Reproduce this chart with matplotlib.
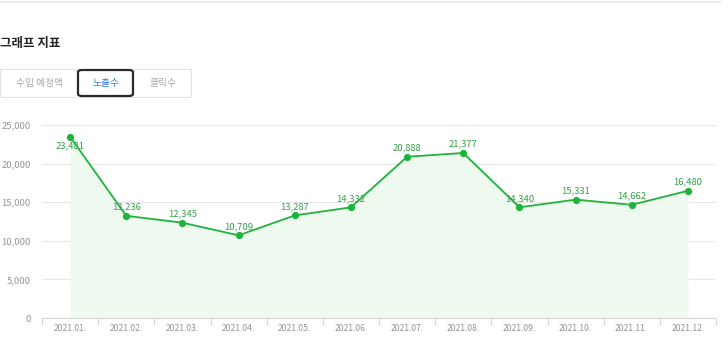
import numpy as np
import matplotlib
matplotlib.use('Agg')
from matplotlib import pyplot as plt
from matplotlib.patches import Rectangle, FancyBboxPatch
from matplotlib.lines import Line2D

plt.rcParams['font.family'] = ['Noto Sans CJK KR', 'DejaVu Sans']

# 데이터
months = ['2021.01.', '2021.02.', '2021.03.', '2021.04.', '2021.05.', '2021.06.',
          '2021.07.', '2021.08.', '2021.09.', '2021.10.', '2021.11.', '2021.12.']
views = [23481, 13236, 12345, 10709, 13287, 14332, 20888, 21377, 14340, 15331, 14662, 16480]
yticks = [0, 5000, 10000, 15000, 20000, 25000]
tabs = ['수입 예정액', '노출수', '클릭수']
title = '그래프 지표'

W, H = 728, 356
fig = plt.figure(figsize=(W / 100, H / 100), dpi=100)

def px(x, y):
    # 픽셀 좌표 -> figure 좌표
    return x / W, 1 - y / H

# 상단 구분선
fig.add_artist(Line2D([0, 720 / W], [1 - 1.5 / H] * 2, color='#ebebeb', lw=1.5))

fx, fy = px(0, 43)
fig.text(fx, fy, title, fontsize=9, fontweight='bold', color='#222222', va='center')

# 탭 박스
x0, y0 = px(0, 97)
fig.add_artist(Rectangle((x0, y0), 191 / W, 28 / H, fill=False, ec='#e4e4e4', lw=0.8))
sx, sy = px(78, 96)
fig.add_artist(FancyBboxPatch((sx, sy), 55 / W, 26 / H, boxstyle='round,pad=0,rounding_size=0.006',
                              fill=False, ec='#2a2a2a', lw=1.6))
tab_x = [40, 106, 163]
tab_col = ['#a8a8a8', '#2f7de1', '#a8a8a8']
for t, x, c in zip(tabs, tab_x, tab_col):
    tx, ty = px(x, 83)
    fig.text(tx, ty, t, fontsize=7, color=c, ha='center', va='center')

# 차트 영역
l, b = px(42, 318)
ax = fig.add_axes([l, b, (716 - 42) / W, (318 - 125) / H])
xs = np.arange(len(months))
ax.fill_between(xs, views, 0, color='#eefaf0', lw=0)
ax.plot(xs, views, color='#1fb23c', lw=1.3, marker='o', ms=4.2, clip_on=False, zorder=3)

for i, v in enumerate(views):
    if i == 0:
        ax.annotate(f'{v:,}', (i, v), xytext=(0, -3.5), textcoords='offset points',
                    ha='center', va='top', fontsize=6.8, color='#34a04a')
    else:
        ax.annotate(f'{v:,}', (i, v), xytext=(0, 3), textcoords='offset points',
                    ha='center', va='bottom', fontsize=6.8, color='#34a04a')

ax.set_xlim(-0.5, len(months) - 0.5)
ax.set_ylim(0, 25000)
ax.set_yticks(yticks)
ax.set_yticklabels([f'{y:,}' for y in yticks], fontsize=6.8, color='#959595')
ax.set_xticks(xs)
ax.set_xticklabels(months, fontsize=6.2, color='#959595')
ax.set_xticks(np.arange(-0.5, len(months)), minor=True)
ax.tick_params(axis='x', which='major', length=0, pad=4)
ax.tick_params(axis='x', which='minor', length=5, color='#d4d4d4', width=0.8)
ax.tick_params(axis='y', length=0, pad=8)
ax.grid(axis='y', color='#e8e8e8', lw=0.8)
ax.set_axisbelow(True)
for s in ['top', 'right', 'left']:
    ax.spines[s].set_visible(False)
ax.spines['bottom'].set_color('#d4d4d4')
ax.spines['bottom'].set_linewidth(0.8)
ax.patch.set_alpha(0)

fig.savefig('out.png', dpi=100)
